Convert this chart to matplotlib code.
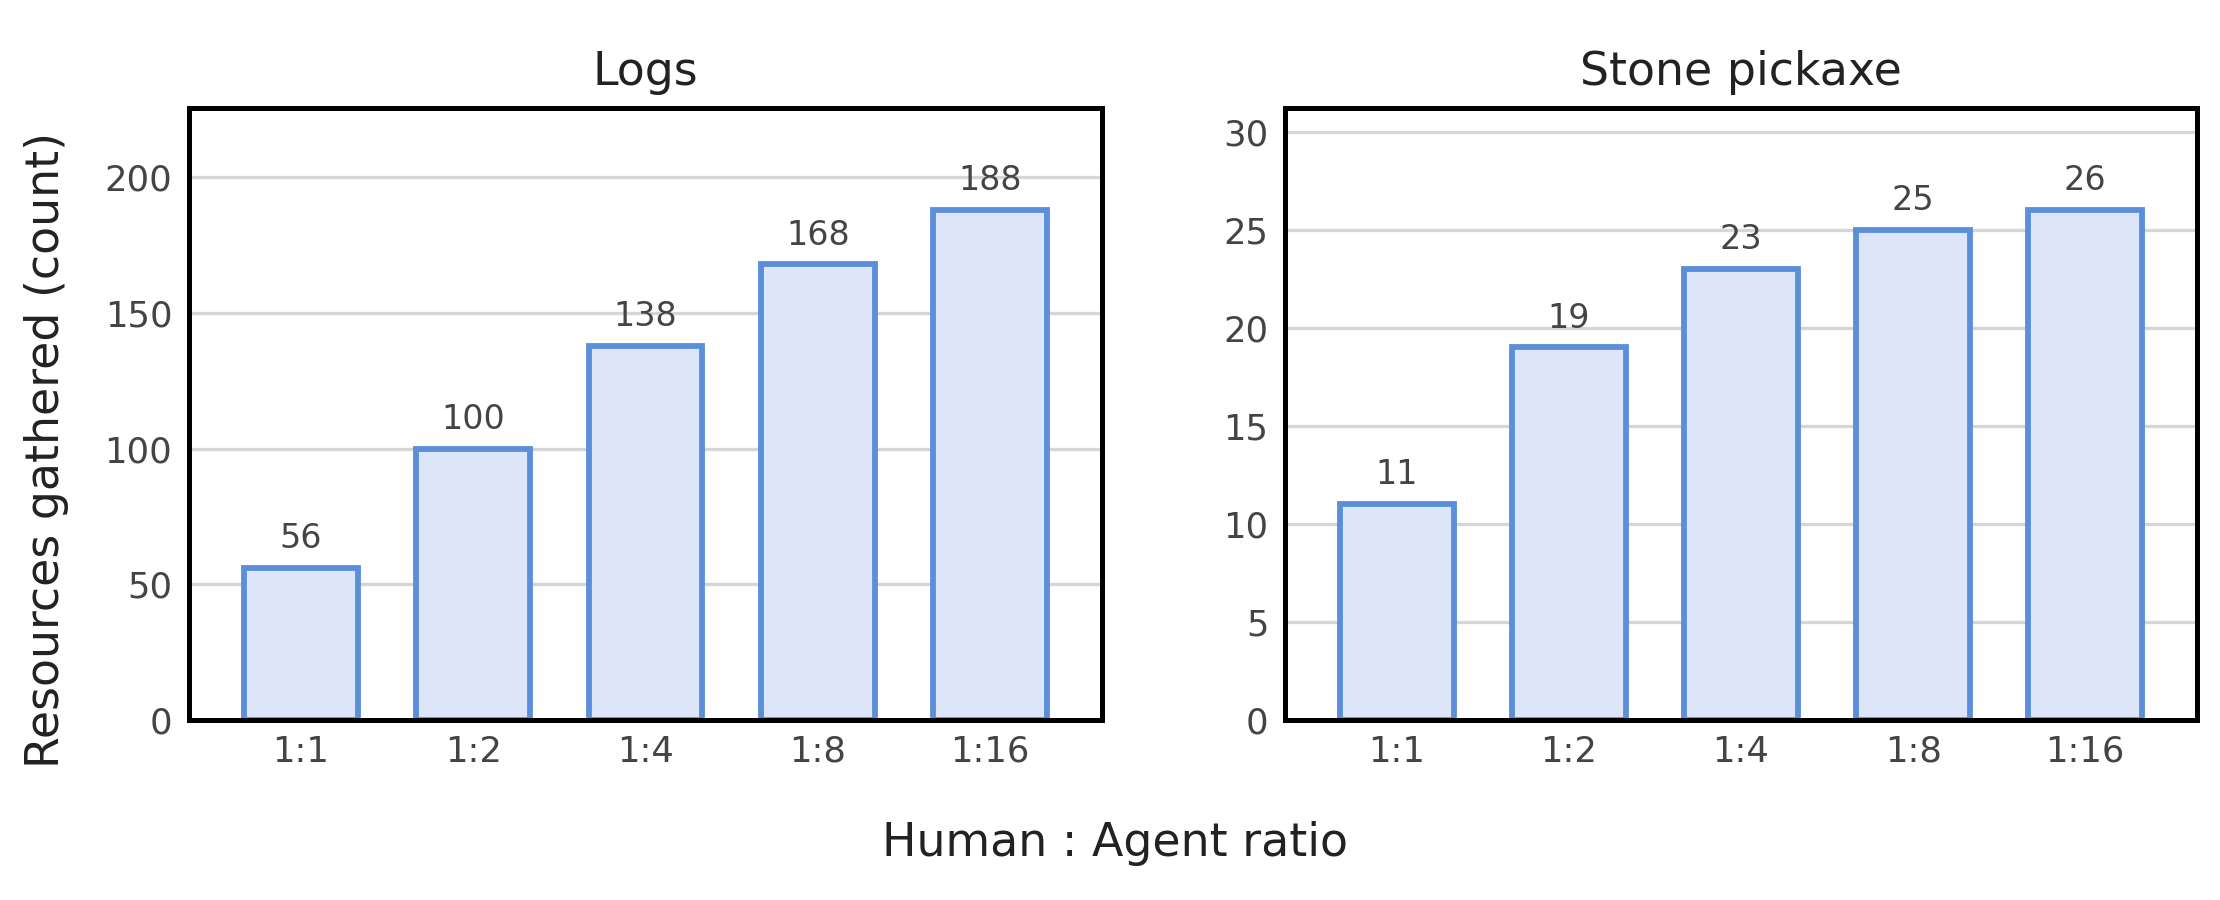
import matplotlib
matplotlib.use("Agg")
import matplotlib.pyplot as plt

categories = ["1:1", "1:2", "1:4", "1:8", "1:16"]
logs_values = [56, 100, 138, 168, 188]
pickaxe_values = [11, 19, 23, 25, 26]
titles = ["Logs", "Stone pickaxe"]
ylabel = "Resources gathered (count)"
xlabel = "Human : Agent ratio"

plt.rcParams['font.family'] = ['DejaVu Sans']
fig = plt.figure(figsize=(7.4, 3.0), dpi=300)
axes = [fig.add_axes([189/2220, 180/900, 913/2220, 612/900]),
        fig.add_axes([1285/2220, 180/900, 912/2220, 612/900])]

edge = "#5B8FD9"
fill = "#DCE6F8"
for ax, vals, title in zip(axes, [logs_values, pickaxe_values], titles):
    x = list(range(len(categories)))
    ax.set_axisbelow(True)
    ax.yaxis.grid(True, color="#d6d6d6", linewidth=0.8)
    ax.bar(x, vals, width=0.66, color=fill, edgecolor=edge, linewidth=1.4)
    ax.set_xlim(-0.65, len(categories) - 0.35)
    ax.set_ylim(0, max(vals) * 1.2)
    ax.set_xticks(x)
    ax.set_xticklabels(categories)
    ax.tick_params(axis="both", length=0, labelsize=8.5, labelcolor="#444444", pad=4)
    ax.tick_params(axis="x", pad=3.5)
    for s in ax.spines.values():
        s.set_color("black")
        s.set_linewidth(1.2)
    ax.set_title(title, fontsize=11, color="#222222", pad=5.5)
    off = max(vals) * 0.025
    for xi, v in zip(x, vals):
        ax.text(xi, v + off, str(v), ha="center", va="bottom", fontsize=8, color="#444444")

fig.text(47/2220, 0.5, ylabel, rotation=90, ha="center", va="center",
         fontsize=11, color="#222222")
fig.text(1115/2220, 1 - 843/900, xlabel, ha="center", va="center", fontsize=11, color="#222222")

fig.savefig("out.png", dpi=300)
